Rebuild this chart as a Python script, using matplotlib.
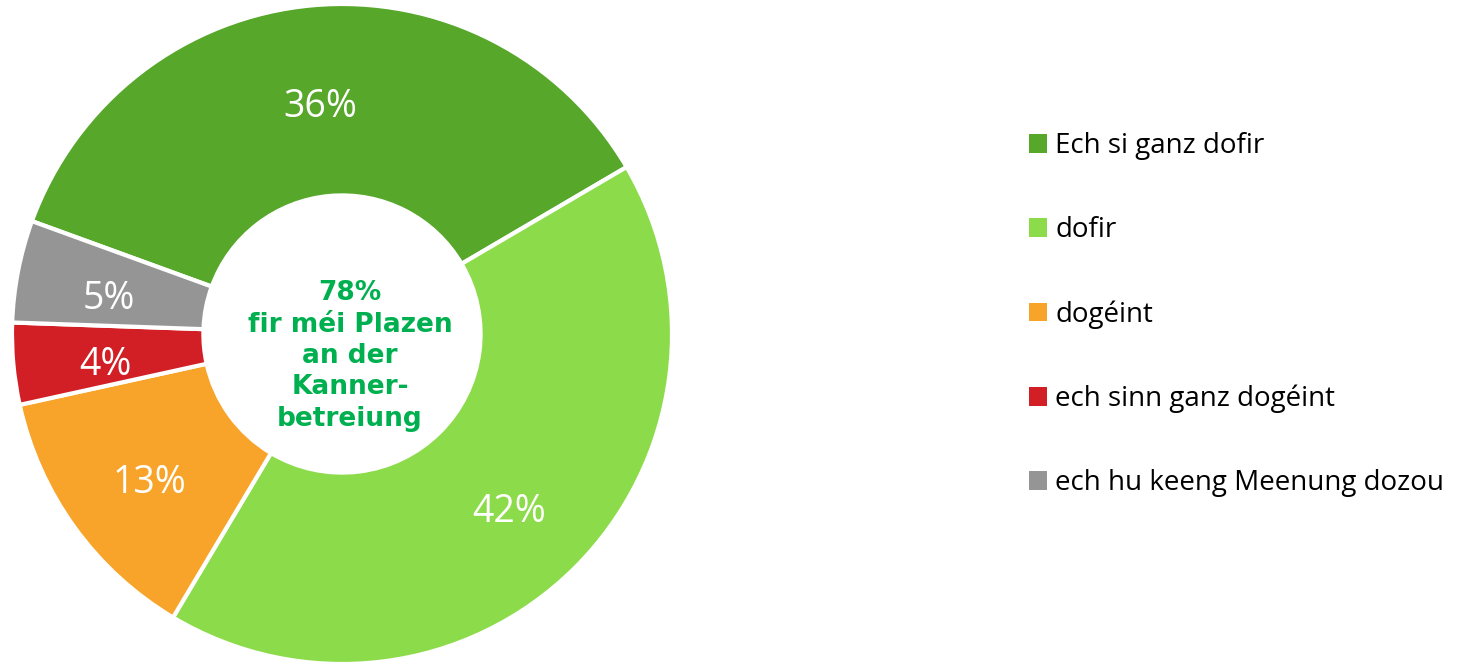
import matplotlib.pyplot as plt
from matplotlib.patches import Patch

categories = ["Ech si ganz dofir", "dofir", "dogéint", "ech sinn ganz dogéint",
              "ech hu keeng Meenung dozou"]
values = [36, 42, 13, 4, 5]
colors = ["#56A72A", "#8CDB4A", "#F8A42A", "#D21F26", "#959595"]
center_label = "78%\nfir méi Plazen\nan der\nKanner-\nbetreiung"

W, H = 1462, 666
fig = plt.figure(figsize=(W / 100, H / 100), dpi=100)
fig.patch.set_facecolor("white")

cx, cy, r = 342, 334, 330
ax = fig.add_axes([(cx - r) / W, (H - cy - r) / H, 2 * r / W, 2 * r / H])

wedges, texts, autotexts = ax.pie(
    values,
    colors=colors,
    startangle=160,
    counterclock=False,
    radius=1.0,
    autopct=lambda p: f"{p:.0f}%",
    pctdistance=0.72,
    wedgeprops=dict(width=0.58, edgecolor="white", linewidth=3),
    textprops=dict(color="white", fontsize=27, family="Open Sans"),
)
# nudge the percent labels down a little to sit like the original
for t in autotexts:
    x, y = t.get_position()
    t.set_position((x, y - 0.03))

ax.set_xlim(-1, 1)
ax.set_ylim(-1, 1)
ax.set_aspect("equal")
ax.axis("off")

ax.text(8 / r, -22 / r, center_label, ha="center", va="center",
        fontsize=19, fontweight="bold", color="#00B050",
        family="DejaVu Sans", linespacing=1.27)

handles = [Patch(facecolor=c, edgecolor="none") for c in colors]
fig.legend(handles, categories, loc="upper left",
           bbox_to_anchor=(1029 / W, 1 - 132 / H), frameon=False,
           prop=dict(family="Open Sans", size=20),
           handlelength=0.65, handleheight=0.65, handletextpad=0.3,
           labelspacing=2.02, borderaxespad=0, borderpad=0)

fig.savefig("out.png", dpi=100)
